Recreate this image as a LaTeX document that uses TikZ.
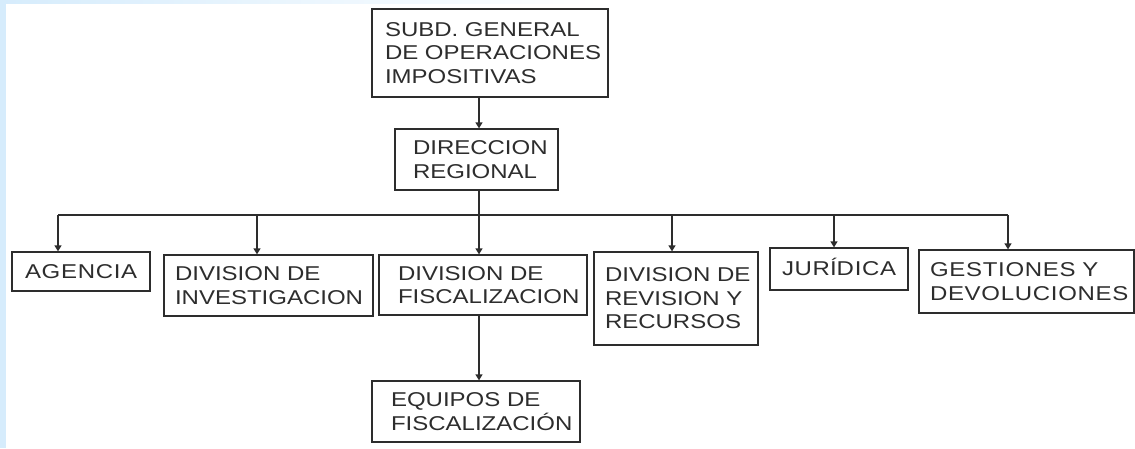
\documentclass[tikz,border=0pt]{standalone}
\usepackage{fontspec}
\setmainfont{Liberation Sans}
\newfontfamily\boxfont[FakeStretch=1.2]{Liberation Sans}
\newfontfamily\spfont[FakeStretch=1.2,LetterSpace=3.5]{Liberation Sans}
\usetikzlibrary{arrows.meta}
\definecolor{ink}{RGB}{45,45,45}
\definecolor{band}{RGB}{214,236,252}
\begin{document}
\begin{tikzpicture}[x=1pt,y=-1pt,
  box/.style={draw=ink, line width=1.3pt, text=ink, font=\boxfont\fontsize{20}{23.5}\selectfont, align=left, inner sep=0pt},
  spbox/.style={box, font=\spfont\fontsize{20}{23.5}\selectfont},
  arr/.style={draw=ink, line width=1.3pt, -{Triangle[width=7pt,length=6pt]}},
  conn/.style={draw=ink, line width=1.3pt}]
\useasboundingbox (0,0) rectangle (1135,448);
\fill[white] (0,0) rectangle (1135,448);
\fill[band] (0,0) rectangle (6,448);
\shade[left color=band, right color=white] (0,0) rectangle (600,3);

\node[box, minimum width=236pt, minimum height=88pt, text width=210pt] (subd) at (490,53)
  {\mbox{SUBD. GENERAL}\\\mbox{DE OPERACIONES}\\\mbox{IMPOSITIVAS}};
\node[box, minimum width=163pt, minimum height=61pt, text width=127pt] (dir) at (476.5,159.5)
  {\mbox{DIRECCION}\\\mbox{REGIONAL}};
\node[spbox, minimum width=138pt, minimum height=39pt, text width=112pt] (agencia) at (81,271.5)
  {\mbox{AGENCIA}};
\node[box, minimum width=209pt, minimum height=61pt, text width=187pt] (inv) at (268.5,285.5)
  {\mbox{DIVISION DE}\\\mbox{INVESTIGACION}};
\node[box, minimum width=208pt, minimum height=60pt, text width=170pt] (fisc) at (483,285)
  {\mbox{DIVISION DE}\\\mbox{FISCALIZACION}};
\node[box, minimum width=164pt, minimum height=93pt, text width=142pt] (rev) at (676,298.5)
  {\mbox{DIVISION DE}\\\mbox{REVISION Y}\\\mbox{RECURSOS}};
\node[spbox, minimum width=138pt, minimum height=42pt, text width=114pt] (jur) at (839,269)
  {\mbox{JUR\smash{Í}DICA}};
\node[spbox, minimum width=215pt, minimum height=63pt, text width=193pt] (ges) at (1026.5,281.5)
  {\mbox{GESTIONES Y}\\\mbox{DEVOLUCIONES}};
\node[box, minimum width=208pt, minimum height=61pt, text width=170pt] (equipos) at (476,411.5)
  {\mbox{EQUIPOS DE}\\\mbox{FISCALIZACIÓN}};

\coordinate (spine) at (479,215);
\coordinate (b1) at (58,215);
\coordinate (b2) at (257,215);
\coordinate (b4) at (672,215);
\coordinate (b5) at (834,215);
\coordinate (b6) at (1008,215);

\draw[arr] (spine |- subd.south) -- (spine |- dir.north);
\draw[conn] (spine |- dir.south) -- (spine);
\draw[conn] (b1) -- (b6);
\draw[arr] (b1) -- (b1 |- agencia.north);
\draw[arr] (b2) -- (b2 |- inv.north);
\draw[arr] (spine) -- (spine |- fisc.north);
\draw[arr] (b4) -- (b4 |- rev.north);
\draw[arr] (b5) -- (b5 |- jur.north);
\draw[arr] (b6) -- (b6 |- ges.north);
\draw[arr] (spine |- fisc.south) -- (spine |- equipos.north);
\end{tikzpicture}
\end{document}
